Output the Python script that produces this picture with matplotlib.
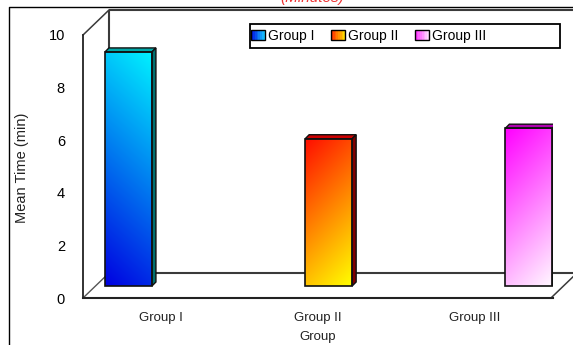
import numpy as np
import matplotlib
matplotlib.use("Agg")
import matplotlib.pyplot as plt
from matplotlib.patches import Polygon, Rectangle
from matplotlib.lines import Line2D
from matplotlib.legend_handler import HandlerBase

plt.rcParams['font.family'] = ['Liberation Sans', 'DejaVu Sans']

# ---- data ----
categories = ["Group I", "Group II", "Group III"]
mean_time = [8.9, 5.6, 6.0]
y_ticks = [0, 2, 4, 6, 8, 10]
y_label = "Mean Time (min)"
x_label = "Group"
title = "(Minutes)"

# gradient end colours (start, end) and 3-D shading per group
grad_colors = [
    ((0.0, 0.0, 0.88), (0.0, 0.95, 1.0)),   # blue -> cyan (bottom-left to top-right)
    ((1.0, 0.05, 0.0), (1.0, 1.0, 0.0)),    # red -> yellow (top-left to bottom-right)
    ((1.0, 0.0, 1.0), (1.0, 0.97, 1.0)),    # magenta -> white (top-left to bottom-right)
]
top_colors = ["#00a8a8", "#cc0000", "#b000b0"]
side_colors = ["#007070", "#800000", "#800080"]

# ---- figure geometry (pixels) ----
W, H = 573, 345
fig = plt.figure(figsize=(W / 100, H / 100), dpi=100)
fig.patch.set_facecolor("white")


def fx(px):
    return px / W


def fy(py):
    return 1 - py / H


ax_l, ax_r, ax_b, ax_t = 83, 553, 298, 35
ax = fig.add_axes([fx(ax_l), fy(ax_b), fx(ax_r) - fx(ax_l), fy(ax_t) - fy(ax_b)])
ax.patch.set_visible(False)

n = len(categories)
xmin, xmax = -0.5, n - 0.5
ymin, ymax = 0, 10
sx = (ax_r - ax_l) / (xmax - xmin)   # px per x unit
sy = (ax_b - ax_t) / (ymax - ymin)   # px per y unit

# depth offsets (converted from pixels to data units)
back_dx, back_dy = 26 / sx, 25 / sy
lift = 12 / sy
bar_dx, bar_dy = 4 / sx, 4 / sy
bar_w = 47 / sx
bar_start, bar_step = -0.21, 1.278
xpos = [bar_start + i * bar_step for i in range(n)]

wall_col = "#3a3a3a"
lkw = dict(color=wall_col, lw=1.5, clip_on=False, zorder=1, solid_capstyle="butt")
# back wall & floor edges
ax.plot([xmin + back_dx, xmax + back_dx + 1], [ymax + back_dy] * 2, **lkw)
ax.plot([xmin + back_dx] * 2, [ymin + back_dy, ymax + back_dy], **lkw)
ax.plot([xmin + back_dx, xmax + back_dx + 1], [ymin + back_dy] * 2, **lkw)
# connecting diagonals
ax.plot([xmin, xmin + back_dx], [ymax, ymax + back_dy], color=wall_col, lw=1.1, clip_on=False, zorder=1)
ax.plot([xmin, xmin + back_dx], [ymin, ymin + back_dy], color="#555555", lw=1.0, clip_on=False, zorder=1)
ax.plot([xmax - 0.013, xmax - 0.013 + back_dx], [ymin, ymin + back_dy], color=wall_col, lw=1.1, clip_on=False, zorder=1)

# ---- bars ----
bars = ax.bar(xpos, mean_time, width=bar_w, bottom=lift, facecolor="none",
              edgecolor="#111111", linewidth=1.2, zorder=6)

for i, rect in enumerate(bars):
    x0 = rect.get_x()
    x1 = x0 + rect.get_width()
    b = rect.get_y()
    h = rect.get_height()
    top = b + h
    wpx, hpx = rect.get_width() * sx, h * sy
    u = np.linspace(0, 1, 30)
    v = np.linspace(0, 1, 200)
    U, V = np.meshgrid(u, v)
    X, Y = U * wpx, V * hpx
    if i == 0:
        t = (X + Y) / (wpx + hpx)
    else:
        t = (X + (hpx - Y)) / (wpx + hpx)
    c0, c1 = np.array(grad_colors[i][0]), np.array(grad_colors[i][1])
    img = c0[None, None, :] * (1 - t[..., None]) + c1[None, None, :] * t[..., None]
    ax.imshow(img, extent=[x0, x1, b, top], origin="lower", aspect="auto",
              zorder=4, interpolation="bilinear")
    # top face
    ax.add_patch(Polygon([(x0, top), (x1, top), (x1 + bar_dx, top + bar_dy), (x0 + bar_dx, top + bar_dy)],
                         closed=True, facecolor=top_colors[i], edgecolor="#111111", lw=1.0, zorder=5))
    # side face
    ax.add_patch(Polygon([(x1, b), (x1 + bar_dx, b + bar_dy), (x1 + bar_dx, top + bar_dy), (x1, top)],
                         closed=True, facecolor=side_colors[i], edgecolor="#111111", lw=1.0, zorder=5))

ax.set_xlim(xmin, xmax)
ax.set_ylim(ymin, ymax)

# ---- axes styling ----
for s in ["top", "right"]:
    ax.spines[s].set_visible(False)
ax.spines["left"].set_color("#222222")
ax.spines["bottom"].set_color("#222222")
ax.spines["left"].set_linewidth(1.3)
ax.spines["bottom"].set_linewidth(1.5)
ax.spines["left"].set_zorder(2)
ax.spines["bottom"].set_zorder(2)

ax.set_yticks(y_ticks)
ax.set_yticklabels([str(v) for v in y_ticks], fontsize=10.5)
ax.set_xticks(range(n))
ax.set_xticklabels(categories, fontsize=9.5, color="#222222")
ax.tick_params(axis="y", length=0, pad=13)
ax.tick_params(axis="x", length=0, pad=10)

ax.set_ylabel(y_label, fontsize=10.5, color="#222222")
ax.yaxis.set_label_coords((29 - ax_l) / (ax_r - ax_l), (ax_b - 168) / (ax_b - ax_t))
ax.set_xlabel(x_label, fontsize=9.5, color="#222222")
ax.xaxis.set_label_coords(0.5, (ax_b - 331) / (ax_b - ax_t))

# ---- outer chart frame ----
fig.add_artist(Line2D([fx(9), fx(9), fx(W + 5)], [fy(H + 5), fy(7), fy(7)],
                      transform=fig.transFigure, color="black", lw=1.0))

# title sits mostly above the top edge
fig.text(fx(344), fy(2), title, ha="right", va="baseline", color="#ee3333",
         fontsize=11, style="italic")


# ---- legend ----
class GradientHandler(HandlerBase):
    def __init__(self, c0, c1):
        super().__init__()
        self.c0, self.c1 = np.array(c0), np.array(c1)

    def create_artists(self, legend, orig_handle, xdescent, ydescent, width, height, fontsize, trans):
        arts = []
        k = 8
        for j in range(k):
            t = j / (k - 1)
            col = self.c0 * (1 - t) + self.c1 * t
            arts.append(Rectangle((-xdescent + j * width / k, -ydescent), width / k + 0.3, height,
                                  facecolor=col, edgecolor="none", transform=trans))
        arts.append(Rectangle((-xdescent, -ydescent), width, height, facecolor="none",
                              edgecolor="black", lw=1.0, transform=trans))
        return arts


leg_cols = [
    ((0.0, 0.1, 0.9), (0.1, 0.8, 1.0)),
    ((1.0, 0.2, 0.0), (1.0, 0.85, 0.0)),
    ((1.0, 0.2, 1.0), (1.0, 0.85, 1.0)),
]
handles = [Rectangle((0, 0), 1, 1) for _ in categories]
handler_map = {h: GradientHandler(*leg_cols[i]) for i, h in enumerate(handles)}
fig.add_artist(Rectangle((fx(250), fy(48)), fx(560) - fx(250), fy(24) - fy(48),
                         transform=fig.transFigure, facecolor="white", edgecolor="black",
                         lw=1.3, zorder=7))
leg = fig.legend(handles, categories, handler_map=handler_map, loc="center left",
                 bbox_to_anchor=(fx(250), fy(36)), bbox_transform=fig.transFigure,
                 ncol=3, frameon=False, fontsize=10, handlelength=1.0, handleheight=0.65,
                 handletextpad=0.2, columnspacing=1.2, borderpad=0.1, borderaxespad=0)
leg.set_zorder(8)

fig.savefig("out.png", dpi=100)
